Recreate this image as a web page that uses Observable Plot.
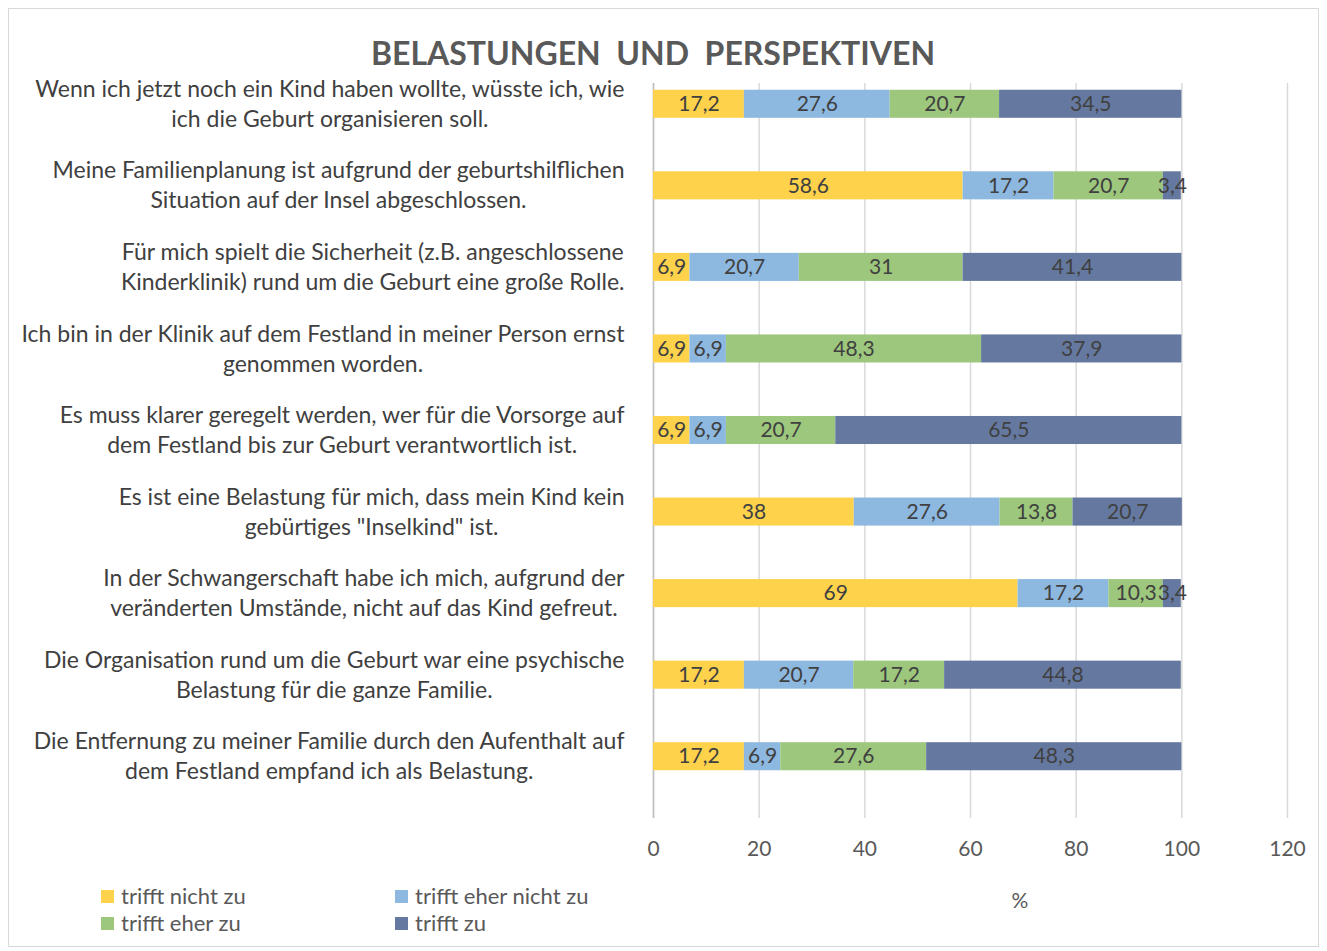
<!DOCTYPE html>
<html>
<head>
<meta charset="utf-8">
<script src="https://cdn.jsdelivr.net/npm/d3@7"></script>
<script src="https://cdn.jsdelivr.net/npm/@observablehq/plot@0.6"></script>
<style>
  html, body { margin: 0; padding: 0; background: #fff; }
  #wrap { position: relative; width: 1327px; height: 951px; font-family: Lato, "Open Sans", sans-serif; color: #595959; overflow: hidden; }
  #frame { position: absolute; left: 8px; top: 8px; width: 1311px; height: 939px; border: 1px solid #d9d9d9; box-sizing: border-box; }
  #title { position: absolute; left: 0; top: 37px; width: 1306px; text-align: center; font-weight: bold; font-size: 32px; line-height: 1; white-space: pre; color: #595959; }
  #chart { position: absolute; left: 0; top: 0; }
  #legend { position: absolute; left: 101px; top: 885px; display: grid; grid-template-columns: 294px auto; row-gap: 5px; font-size: 22px; line-height: 22px; }
  .item { display: flex; align-items: center; white-space: nowrap; }
  .sw { width: 13px; height: 13px; margin-right: 7px; flex: none; }
  #pct { position: absolute; left: 990px; width: 60px; top: 889px; text-align: center; font-size: 21px; line-height: 22px; }
</style>
</head>
<body>
<div id="wrap">
  <div id="frame"></div>
  <div id="title"></div>
  <div id="chart"></div>
  <div id="legend"></div>
  <div id="pct"></div>
</div>
<script>
const title = "BELASTUNGEN  UND  PERSPEKTIVEN";
const axisLabel = "%";
const categories = ["trifft nicht zu", "trifft eher nicht zu", "trifft eher zu", "trifft zu"];
const colors = ["#FFD24C", "#8DB8E0", "#9CC77C", "#6579A0"];
const questions = [
  "Wenn ich jetzt noch ein Kind haben wollte, wüsste ich, wie\nich die Geburt organisieren soll.",
  "Meine Familienplanung ist aufgrund der geburtshilflichen\nSituation auf der Insel abgeschlossen.",
  "Für mich spielt die Sicherheit (z.B. angeschlossene\nKinderklinik) rund um die Geburt eine große Rolle.",
  "Ich bin in der Klinik auf dem Festland in meiner Person ernst\ngenommen worden.",
  "Es muss klarer geregelt werden, wer für die Vorsorge auf\ndem Festland bis zur Geburt verantwortlich ist.",
  "Es ist eine Belastung für mich, dass mein Kind kein\ngebürtiges \"Inselkind\" ist.",
  "In der Schwangerschaft habe ich mich, aufgrund der\nveränderten Umstände, nicht auf das Kind gefreut.",
  "Die Organisation rund um die Geburt war eine psychische\nBelastung für die ganze Familie.",
  "Die Entfernung zu meiner Familie durch den Aufenthalt auf\ndem Festland empfand ich als Belastung."
];
const trifftNichtZu      = [17.2, 58.6, 6.9, 6.9, 6.9, 38, 69, 17.2, 17.2];
const trifftEherNichtZu  = [27.6, 17.2, 20.7, 6.9, 6.9, 27.6, 17.2, 20.7, 6.9];
const trifftEherZu       = [20.7, 20.7, 31, 48.3, 20.7, 13.8, 10.3, 17.2, 27.6];
const trifftZu           = [34.5, 3.4, 41.4, 37.9, 65.5, 20.7, 3.4, 44.8, 48.3];
const xTicks = [0, 20, 40, 60, 80, 100, 120];

const series = [trifftNichtZu, trifftEherNichtZu, trifftEherZu, trifftZu];
const data = [];
questions.forEach((q, i) => {
  categories.forEach((c, j) => data.push({ q, cat: c, value: series[j][i] }));
});
const fmt = v => String(v).replace(".", ",");

document.getElementById("title").textContent = title;
document.getElementById("pct").textContent = axisLabel;

const H = 870;
const chart = Plot.plot({
  width: 1327,
  height: H,
  marginLeft: 653,
  marginRight: 40,
  marginTop: 83,
  marginBottom: 52,
  style: { fontFamily: "Lato, 'Open Sans', sans-serif", color: "#595959", background: "transparent" },
  x: { domain: [0, 120], ticks: xTicks, label: null },
  y: { domain: questions, padding: 0, round: false, insetTop: -20, insetBottom: 21, label: null },
  color: { domain: categories, range: colors },
  marks: [
    Plot.gridX(xTicks, { stroke: "#d9d9d9", strokeOpacity: 1, strokeWidth: 1.5 }),
    Plot.ruleX([0], { stroke: "#bfbfbf", strokeWidth: 1.5 }),
    Plot.barX(data, Plot.stackX({ x: "value", y: "q", fill: "cat", insetTop: 26.75, insetBottom: 26.75 })),
    Plot.text(data, Plot.stackX({ x: "value", y: "q", z: "cat", text: d => fmt(d.value), fill: "#404040", fontSize: 21 })),
    Plot.axisX({ ticks: xTicks, tickSize: 0, tickPadding: 23, fontSize: 21, label: null, tickFormat: d => String(d) }),
    Plot.axisY({ tickSize: 0, tickPadding: 29, fontSize: 23, lineHeight: 30 / 23, dy: -2, label: null, fill: "#404040" })
  ]
});
document.getElementById("chart").appendChild(chart);

// center each multi-line category label within its own block (right-aligned block)
chart.querySelectorAll('g[aria-label="y-axis tick label"] text').forEach(t => {
  const spans = t.querySelectorAll("tspan");
  if (!spans.length) return;
  let w = 0;
  spans.forEach(s => { w = Math.max(w, s.getComputedTextLength()); });
  t.setAttribute("text-anchor", "middle");
  spans.forEach(s => s.setAttribute("x", -w / 2));
});

const legend = document.getElementById("legend");
[0, 1, 2, 3].forEach(j => {
  const it = document.createElement("div");
  it.className = "item";
  const sw = document.createElement("span");
  sw.className = "sw";
  sw.style.background = colors[j];
  const tx = document.createElement("span");
  tx.textContent = categories[j];
  it.appendChild(sw); it.appendChild(tx);
  legend.appendChild(it);
});
</script>
</body>
</html>
